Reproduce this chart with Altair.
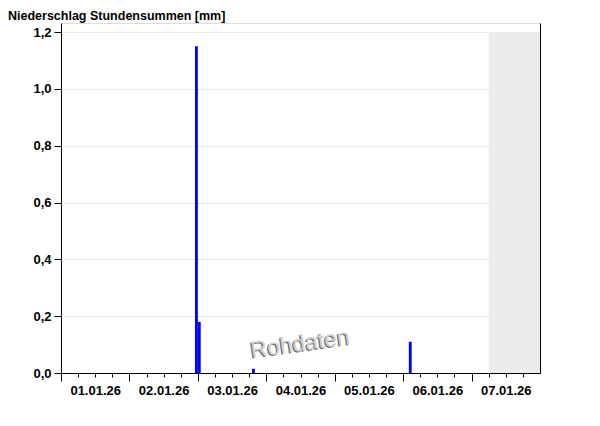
import altair as alt
import pandas as pd

# ---- data ----
bar_start = ["2026-01-02T23:00:00", "2026-01-03T00:00:00", "2026-01-03T19:00:00", "2026-01-06T02:00:00"]
bar_values = [1.15, 0.18, 0.015, 0.11]
nodata_start = ["2026-01-07T06:00:00"]
nodata_end = ["2026-01-08T00:00:00"]
y_ticks = [0.0, 0.2, 0.4, 0.6, 0.8, 1.0, 1.2]
label_days = [1, 2, 3, 4, 5, 6, 7]
minor_hours = [0, 6, 12, 18]
chart_title = "Niederschlag Stundensummen [mm]"
watermark = ["Rohdaten"]

FONT = "Liberation Sans"

bars = pd.DataFrame({"start": bar_start, "value": bar_values})
bars["end"] = (pd.to_datetime(bars["start"]) + pd.Timedelta(hours=1)).dt.strftime("%Y-%m-%dT%H:%M:%S")
bars["zero"] = 0.0
nodata = pd.DataFrame({"start": nodata_start, "end": nodata_end, "y0": [0.0], "y1": [max(y_ticks)]})
wm = pd.DataFrame({"label": watermark})

x_scale = alt.Scale(domain=[alt.DateTime(year=2026, month=1, date=1),
                            alt.DateTime(year=2026, month=1, date=8)], nice=False)
y_scale = alt.Scale(domain=[0, max(y_ticks) * 350 / 341], nice=False, zero=True)

x_axis_minor = alt.Axis(
    title=None,
    orient="bottom",
    values=[alt.DateTime(year=2026, month=1, date=d, hours=h) for d in label_days for h in minor_hours],
    labels=False,
    tickSize=4,
    grid=False,
    domainColor="black",
    tickColor="black",
)

x_axis_major = alt.Axis(
    title=None,
    orient="bottom",
    values=[alt.DateTime(year=2026, month=1, date=d) for d in label_days],
    format="%d.%m.%y",
    labelOffset=34.2,
    tickSize=8,
    labelPadding=3,
    labelFlush=False,
    labelOverlap=False,
    grid=False,
    domainColor="black",
    tickColor="black",
    labelColor="black",
    labelFont=FONT,
    labelFontSize=13,
    labelFontWeight="bold",
)

y_axis_left = alt.Axis(
    title=None,
    values=y_ticks,
    format=".1f",
    tickSize=7,
    labelPadding=3,
    grid=True,
    gridColor="#ebebeb",
    domainColor="black",
    tickColor="black",
    labelColor="black",
    labelFont=FONT,
    labelFontSize=13,
    labelFontWeight="bold",
)

y_axis_right = alt.Axis(
    title=None, orient="right", labels=False, ticks=False, grid=False, domainColor="black"
)

nodata_layer = alt.Chart(nodata).mark_rect(color="#ececec").encode(
    x=alt.X("start:T", scale=x_scale, axis=x_axis_major),
    x2="end:T",
    y=alt.Y("y0:Q", scale=y_scale, axis=y_axis_right),
    y2="y1:Q",
)

bar_layer = alt.Chart(bars).mark_rect(color="#0000ff").encode(
    x=alt.X("start:T", scale=x_scale, axis=x_axis_minor),
    x2="end:T",
    y=alt.Y("value:Q", scale=y_scale, axis=y_axis_left),
    y2="zero:Q",
)

wm_shadow = alt.Chart(wm).mark_text(
    font=FONT, fontSize=23, angle=352, color="#6e6e6e", align="center", baseline="middle"
).encode(x=alt.value(238), y=alt.value(322), text="label:N")

wm_face = alt.Chart(wm).mark_text(
    font=FONT, fontSize=23, angle=352, color="#d2d2d2", align="center", baseline="middle"
).encode(x=alt.value(239.2), y=alt.value(321), text="label:N")

chart = alt.layer(nodata_layer, bar_layer, wm_shadow, wm_face).resolve_axis(
    x="independent", y="independent"
).properties(
    width=479,
    height=350,
    autosize=alt.AutoSizeParams(type="none"),
    padding={"left": 53, "top": 15, "right": 52, "bottom": 39},
    title=alt.TitleParams(
        chart_title, anchor="start", frame="group", dx=-53, offset=0.5,
        font=FONT, fontSize=12.5, fontWeight="bold", color="black",
    ),
).configure_view(strokeWidth=0).configure(
    background="white",
    locale={"number": {"decimal": ",", "thousands": ".", "grouping": [3], "currency": ["", " €"]}},
)

chart.save("out.html", embed_options={"renderer": "svg", "actions": False})
